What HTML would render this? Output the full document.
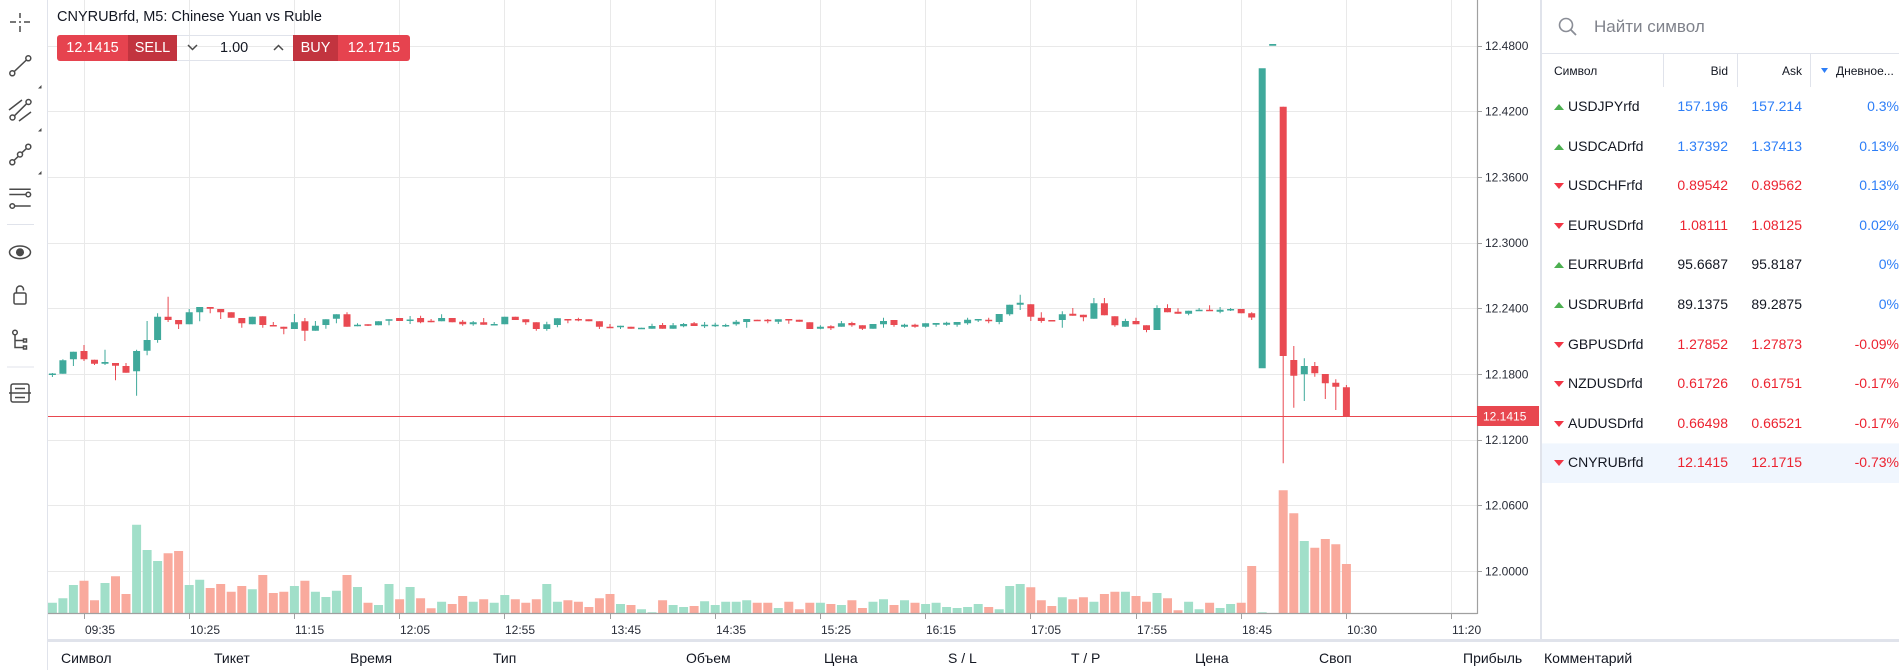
<!DOCTYPE html>
<html><head><meta charset="utf-8">
<style>
*{margin:0;padding:0;box-sizing:border-box}
html,body{width:1899px;height:670px;overflow:hidden;background:#fff;font-family:"Liberation Sans",Arial,sans-serif;color:#131722}
.a{position:absolute;white-space:nowrap}
.row{position:absolute;left:1542px;width:357px;height:39.6px;line-height:39.6px;font-size:14px}
.row .s{position:absolute;left:26px}
.row .b{position:absolute;right:171px}
.row .k{position:absolute;right:97px}
.row .c{position:absolute;right:0}
.up{position:absolute;left:12px;top:17px;width:0;height:0;border-left:5px solid transparent;border-right:5px solid transparent;border-bottom:6px solid #4caf50}
.dn{position:absolute;left:12px;top:17px;width:0;height:0;border-left:5px solid transparent;border-right:5px solid transparent;border-top:6px solid #f23645}
.bl{color:#2d7ef7}.rd{color:#ec2330}
.tb{position:absolute;top:35px;height:26px;line-height:26px;font-size:14.5px;color:#fff;text-align:center}
.bh{position:absolute;top:649px;font-size:14px;line-height:18px;color:#131722}
</style></head><body>

<svg class="a" style="left:0;top:0" width="1899" height="670" xmlns="http://www.w3.org/2000/svg">
<!-- grid -->
<g stroke="#e9e9e9" stroke-width="1" fill="none">
<path d="M84.5 0V614M189.5 0V614M294.5 0V614M399.5 0V614M504.5 0V614M610.5 0V614M715.5 0V614M820.5 0V614M925.5 0V614M1030.5 0V614M1136.5 0V614M1241.5 0V614M1346.5 0V614M1451.5 0V614"/>
<path d="M48 46.5H1477M48 111.5H1477M48 177.5H1477M48 243.5H1477M48 308.5H1477M48 374.5H1477M48 440.5H1477M48 505.5H1477M48 571.5H1477"/>
</g>
<!-- volume -->
<path stroke="#a1dfc9" stroke-width="9" fill="none" d="M52.4 602.7V614M62.9 598.3V614M73.4 585V614M105 583V614M136.6 524.7V614M147.1 550V614M157.6 561V614M189.2 585V614M199.7 579.7V614M252.3 589.3V614M294.4 586V614M315.4 591.7V614M325.9 597V614M336.4 590.7V614M357.5 587V614M378.5 605V614M389 584V614M410.1 587V614M441.6 601.7V614M473.2 601.7V614M494.2 602.7V614M504.8 595V614M546.8 584V614M557.4 601.7V614M620.5 604V614M641.5 609.3V614M652 612.3V614M673.1 605V614M683.6 607V614M704.6 601.3V614M715.2 605V614M725.7 601.7V614M736.2 601.7V614M746.7 600.3V614M778.3 608V614M820.4 602.7V614M841.4 605V614M873 601.7V614M883.5 599.3V614M904.5 600.3V614M925.6 604V614M936.1 602.7V614M946.6 607V614M957.1 608V614M967.6 607V614M978.2 604V614M999.2 609.3V614M1009.7 586V614M1020.2 584V614M1062.3 597.3V614M1093.9 601.7V614M1125.4 591.7V614M1157 593V614M1188.6 601.7V614M1199.1 609.3V614M1220.1 608V614M1230.6 604V614M1262.2 612.3V614M1304.3 541V614"/>
<path stroke="#f9aa9d" stroke-width="9" fill="none" d="M84 580.7V614M94.5 600.3V614M115.5 576.3V614M126 594V614M168.1 553.3V614M178.6 551V614M210.2 588V614M220.7 584V614M231.2 591.7V614M241.8 586V614M262.8 575V614M273.3 593V614M283.8 591.7V614M304.9 580.7V614M347 575V614M368 602.7V614M399.6 599.3V614M420.6 598.3V614M431.1 608.3V614M452.2 604V614M462.7 596V614M483.7 599.3V614M515.3 599.3V614M525.8 602.7V614M536.3 599.3V614M567.9 600.3V614M578.4 601.7V614M588.9 607V614M599.4 598.3V614M610 594V614M631 605V614M662.6 600.3V614M694.1 606V614M757.2 602.7V614M767.8 602.7V614M788.8 601.7V614M799.3 609.3V614M809.8 602.7V614M830.9 604V614M851.9 600.3V614M862.4 608V614M894 605V614M915 602.7V614M988.7 607V614M1030.8 587.3V614M1041.3 600.3V614M1051.8 606V614M1072.8 599.3V614M1083.4 597.3V614M1104.4 594V614M1114.9 591.7V614M1136 596V614M1146.5 601.7V614M1167.5 598.3V614M1178 610.3V614M1209.6 602.7V614M1241.2 602.7V614M1251.7 566V614M1283.2 490.3V614M1293.8 513.3V614M1314.8 547.7V614M1325.3 539V614M1335.8 544.3V614M1346.4 564V614"/>
<!-- candles green -->
<path stroke="#3fa99b" stroke-width="1" fill="none" d="M52.4 373V377M62.9 359.3V373.7M73.4 351.7V366M105 349.7V365M136.6 349.7V395.7M147.1 321V355.3M157.6 313.3V342.7M189.2 309V324.3M199.7 307V321.3M252.3 316.7V324.3M294.4 314V329M315.4 321V330.7M325.9 319.3V328.7M336.4 314.3V323.3M357.5 323.3V326.3M378.5 321.3V325.3M389 319.3V325.3M410.1 316V324M441.6 314.3V321.3M473.2 321V325.7M494.2 322V325.3M504.8 316.7V324.3M546.8 321.7V330.7M557.4 318.3V327.3M620.5 325.7V329M641.5 327.7V329M652 323.7V328.7M673.1 323V328.7M683.6 323V327.3M704.6 322V328M715.2 322.7V327M725.7 323.7V327M736.2 320V325.7M746.7 319V327.7M778.3 319.3V324M820.4 325.3V329.3M841.4 321V326.7M873 324V328.7M883.5 317.7V327.7M904.5 323.7V327.7M925.6 323.3V327.7M936.1 323V326.7M946.6 321.7V325.7M957.1 322V326.7M967.6 317.7V324.7M978.2 319V322M999.2 314V324.3M1009.7 304.7V315.7M1020.2 294.7V310M1062.3 311.3V327.7M1093.9 298V318.7M1125.4 318.7V326.7M1157 305.3V330M1188.6 310.7V315.3M1199.1 308V311M1220.1 307V313.3M1230.6 308V311M1304.3 358.3V401"/>
<path stroke="#3fa99b" stroke-width="7" fill="none" d="M52.4 373.5V375M62.9 360.3V373.7M73.4 351.7V359.3M105 362V363.7M136.6 351V371.3M147.1 340V350.7M157.6 316.7V340M189.2 312.3V324.3M199.7 307V312.3M252.3 316.7V324.3M294.4 322.3V329M315.4 325.7V330.7M325.9 319.3V325M336.4 314.3V318.7M357.5 324.7V326.3M378.5 321.3V325.3M389 319.3V320.8M410.1 319.5V321M441.6 318V321.3M473.2 322.3V324.3M494.2 324V325.5M504.8 316.7V324.3M546.8 324.3V329M557.4 318.3V325M620.5 325.7V327.3M641.5 327.7V329.2M652 326V328.7M673.1 325.3V328.7M683.6 324V326.3M704.6 324.7V326.2M715.2 324.7V326.2M725.7 325V326.5M736.2 321.7V324.3M746.7 319V322M778.3 319.3V321.7M820.4 326.7V328.7M841.4 323.3V326.7M873 324V328.7M883.5 321V324.3M904.5 324.7V326.7M925.6 323.3V326.7M936.1 323V324.7M946.6 322.7V324.7M957.1 322V324.7M967.6 319.7V323.3M978.2 319V320.5M999.2 314V322M1009.7 304.7V314.3M1020.2 302.7V304.7M1062.3 314.3V320M1093.9 303.3V318.7M1125.4 321V326.7M1157 308V330M1188.6 310.7V313.7M1199.1 309.7V311.2M1220.1 309.7V311.7M1230.6 309V310.5M1262.2 68.3V368.3M1272.7 44V45.7M1304.3 366V374.3"/>
<!-- candles red -->
<path stroke="#e94a52" stroke-width="1" fill="none" d="M84 345V361M94.5 359.7V365M115.5 363V380.3M126 363V372.7M168.1 296.7V322M178.6 320V329M210.2 307V313.3M220.7 309V319M231.2 312.3V317.7M241.8 318V327.7M262.8 316.3V327.7M273.3 322V326.3M283.8 326.7V334.3M304.9 318V341M347 312.3V326.7M368 324.3V326M399.6 318V321M420.6 315.7V323.3M431.1 319V322.3M452.2 318V322.3M462.7 320V325.7M483.7 318V324.7M515.3 316.7V320M525.8 319.3V324.7M536.3 322.3V330.7M567.9 319V323.3M578.4 317.7V321.3M588.9 319.3V321.3M599.4 321.3V329M610 324V327.7M631 326.7V328.7M662.6 323V328.7M694.1 322V326M757.2 319.7V320.7M767.8 319V323.3M788.8 319V323.7M799.3 319.7V321.7M809.8 322.3V329M830.9 325.3V330M851.9 321.7V326.7M862.4 325.3V330M894 320V326.7M915 323.7V327.7M988.7 317.7V323.3M1030.8 304.3V321M1041.3 312.3V322.7M1051.8 320V321M1072.8 308V315.7M1083.4 314.7V321.3M1104.4 298V315.3M1114.9 316.3V326.7M1136 317.7V324.3M1146.5 325.3V332.3M1167.5 304.3V312.3M1178 308.3V313.7M1209.6 305.3V311M1241.2 309V313.3M1251.7 312.3V320M1283.2 106.7V463.3M1293.8 346V407.7M1314.8 362V376.7M1325.3 374V399M1335.8 379.3V410M1346.4 385V416"/>
<path stroke="#e94a52" stroke-width="7" fill="none" d="M84 351V359.3M94.5 359.7V363.7M115.5 363V365.7M126 366V372.7M168.1 316.7V320M178.6 320V324.3M210.2 307V308.7M220.7 309V312.3M231.2 312.3V317.7M241.8 318V323.3M262.8 316.3V325M273.3 325V326.5M283.8 326.7V328.7M304.9 321.3V330.7M347 314.3V326.7M368 324.3V325.8M399.6 318V321M420.6 318V322.3M431.1 320.7V322.3M452.2 318V322.3M462.7 321.7V324.3M483.7 322.3V324.7M515.3 316.7V320M525.8 319.3V322.3M536.3 322.3V329M567.9 319V320.5M578.4 319V320.5M588.9 319.3V321.3M599.4 321.3V326.7M610 326.7V328.2M631 326.7V328.7M662.6 325V328.7M694.1 323.3V326M757.2 319.7V321.2M767.8 319.7V321.2M788.8 319V320.5M799.3 319.7V321.7M809.8 322.3V329M830.9 326.3V328.3M851.9 323V325.3M862.4 325.3V328.7M894 320V325M915 324.7V326.7M988.7 319.7V321.3M1030.8 304.3V316.7M1041.3 317.7V321M1051.8 320V321.5M1072.8 313.7V315.7M1083.4 314.7V317.3M1104.4 303.3V315.3M1114.9 316.3V325.3M1136 321V324.3M1146.5 325.3V330M1167.5 308V312.3M1178 311.7V313.7M1209.6 309.7V311.2M1241.2 309V313.3M1251.7 313.3V317.5M1283.2 106.7V356M1293.8 360V375.7M1314.8 366V373.3M1325.3 374V383.3M1335.8 382.7V386.7M1346.4 387.3V416"/>
<!-- price line -->
<path d="M48 416.5H1477" stroke="#e8474f" stroke-width="1"/>
<!-- axes -->
<path d="M1477.5 0V614M48 613.5H1477.5" stroke="#a0a0a0" stroke-width="1.2" fill="none"/>
<path d="M1477 46.5H1482M1477 111.5H1482M1477 177.5H1482M1477 243.5H1482M1477 308.5H1482M1477 374.5H1482M1477 440.5H1482M1477 505.5H1482M1477 571.5H1482" stroke="#a0a0a0" stroke-width="1"/>
<path d="M84.5 614V619M189.5 614V619M294.5 614V619M399.5 614V619M504.5 614V619M610.5 614V619M715.5 614V619M820.5 614V619M925.5 614V619M1030.5 614V619M1136.5 614V619M1241.5 614V619M1346.5 614V619M1451.5 614V619" stroke="#a0a0a0" stroke-width="1"/>
<g font-family="Liberation Sans, Arial, sans-serif" font-size="12" fill="#2a2e39">
<text x="1485" y="50">12.4800</text>
<text x="1485" y="115.7">12.4200</text>
<text x="1485" y="181.3">12.3600</text>
<text x="1485" y="247">12.3000</text>
<text x="1485" y="312.7">12.2400</text>
<text x="1485" y="378.3">12.1800</text>
<text x="1485" y="444">12.1200</text>
<text x="1485" y="509.7">12.0600</text>
<text x="1485" y="575.3">12.0000</text>
<text x="85" y="634">09:35</text>
<text x="190" y="634">10:25</text>
<text x="295" y="634">11:15</text>
<text x="400" y="634">12:05</text>
<text x="505" y="634">12:55</text>
<text x="611" y="634">13:45</text>
<text x="716" y="634">14:35</text>
<text x="821" y="634">15:25</text>
<text x="926" y="634">16:15</text>
<text x="1031" y="634">17:05</text>
<text x="1137" y="634">17:55</text>
<text x="1242" y="634">18:45</text>
<text x="1347" y="634">10:30</text>
<text x="1452" y="634">11:20</text>
</g>
<rect x="1477" y="406" width="62" height="20" fill="#e8474f"/>
<text x="1483" y="420.5" font-family="Liberation Sans, Arial, sans-serif" font-size="12" fill="#fff">12.1415</text>
<!-- frame lines -->
<rect x="47" y="0" width="1" height="670" fill="#e0e3eb"/>
<rect x="1540" y="0" width="2" height="640" fill="#e0e3eb"/>
<rect x="48" y="639" width="1851" height="3" fill="#e0e3eb"/>
<rect x="1542" y="53" width="357" height="1" fill="#e0e3eb"/>
<path d="M1663.5 54V87M1737.5 54V87M1810.5 54V87" stroke="#e0e3eb" stroke-width="1"/>
<rect x="1542" y="443.4" width="357" height="39.6" fill="#f0f6fe"/>
<!-- search icon -->
<circle cx="1566" cy="25" r="6.5" fill="none" stroke="#8a8d96" stroke-width="1.6"/>
<path d="M1570.8 29.8L1576 35" stroke="#8a8d96" stroke-width="1.8"/>
<path d="M1821 68H1828L1824.5 73Z" fill="#2d7ef7"/>
<!-- toolbar icons -->
<g stroke="#4a4a4a" stroke-width="1.5" fill="none">
<path d="M20 13V18M20 26V32M10 22H16M24 22H30"/>
<circle cx="12.3" cy="73.3" r="2.5"/><circle cx="28.3" cy="58.3" r="2.5"/><path d="M14.2 71.6L26.4 60"/>
<path d="M9 110L22 100M19 121L31 112"/><circle cx="12.5" cy="117.5" r="2.5"/><circle cx="28.5" cy="102" r="2.5"/><path d="M14.4 115.8L26.6 103.7"/>
<circle cx="12.3" cy="162.3" r="2.5"/><circle cx="20" cy="154.5" r="2.5"/><circle cx="28.3" cy="146.7" r="2.5"/><path d="M14 160.5L18.3 156.3M21.8 152.8L26.5 148.4"/>
<path d="M9.3 189.3H30.7M9.3 194.5H25.8M9.3 206H10M14.8 206H30.7"/><circle cx="28.3" cy="194.5" r="2.3"/><circle cx="12.3" cy="206" r="2.3"/>
<ellipse cx="20" cy="252.3" rx="10.5" ry="6.3"/><circle cx="20" cy="252.3" r="3.3" fill="#4a4a4a"/>
<rect x="14" y="293" width="12" height="11" rx="1.5"/><path d="M16.5 293V289.5A3.5 3.5 0 0 1 23.5 289.5V290.5"/>
<circle cx="15" cy="332.5" r="2.3"/><path d="M15 335V347.5H23M15 340.5H23"/><rect x="23.5" y="339" width="3" height="3"/><rect x="23.5" y="346" width="3" height="3"/>
<rect x="11" y="384" width="18" height="18" rx="2"/><path d="M9 393H31M15 388.5H25M15 397.5H25"/>
</g>
<path d="M20 21V23" stroke="#4a4a4a" stroke-width="1.5"/>
<path d="M7 224.5H34M7 367H34" stroke="#e0e3eb" stroke-width="1"/>
<path d="M41.5 85V88.5H38Z M41.5 128V131.5H38Z M41.5 171V174.5H38Z" fill="#4a4a4a"/>
<!-- chevrons -->
<path d="M188 45L192.5 49.5L197 45" stroke="#4a4a4a" stroke-width="1.5" fill="none"/>
<path d="M274 50L278.5 45.5L283 50" stroke="#4a4a4a" stroke-width="1.5" fill="none"/>
</svg>

<div class="a" style="left:57px;top:8px;font-size:14.5px;line-height:18px;color:#131722">CNYRUBrfd, M5: Chinese Yuan vs Ruble</div>

<div class="tb" style="left:57px;width:71px;background:#e6434f;border-radius:3px 0 0 3px">12.1415</div>
<div class="tb" style="left:128px;width:49px;background:#c2343f">SELL</div>
<div class="tb" style="left:177px;width:116px;border:1px solid #e0e3eb;border-left:none;border-right:none;background:transparent"></div>
<div class="a" style="left:220px;top:35px;line-height:26px;font-size:14.5px;color:#131722">1.00</div>
<div class="tb" style="left:293px;width:45px;background:#c2343f">BUY</div>
<div class="tb" style="left:338px;width:72px;background:#e6434f;border-radius:0 3px 3px 0">12.1715</div>

<div class="a" style="left:1594px;top:17px;font-size:17px;line-height:20px;color:#7f828b">Найти символ</div>
<div class="a" style="left:1554px;top:63px;font-size:12px;line-height:16px">Символ</div>
<div class="a" style="right:171px;top:63px;font-size:12px;line-height:16px">Bid</div>
<div class="a" style="right:97px;top:63px;font-size:12px;line-height:16px">Ask</div>
<div class="a" style="left:1836px;top:63px;font-size:12px;line-height:16px">Дневное...</div>

<div class="row" style="top:87px"><i class="up"></i><span class="s">USDJPYrfd</span><span class="b bl">157.196</span><span class="k bl">157.214</span><span class="c bl">0.3%</span></div>
<div class="row" style="top:126.6px"><i class="up"></i><span class="s">USDCADrfd</span><span class="b bl">1.37392</span><span class="k bl">1.37413</span><span class="c bl">0.13%</span></div>
<div class="row" style="top:166.2px"><i class="dn"></i><span class="s">USDCHFrfd</span><span class="b rd">0.89542</span><span class="k rd">0.89562</span><span class="c bl">0.13%</span></div>
<div class="row" style="top:205.8px"><i class="dn"></i><span class="s">EURUSDrfd</span><span class="b rd">1.08111</span><span class="k rd">1.08125</span><span class="c bl">0.02%</span></div>
<div class="row" style="top:245.4px"><i class="up"></i><span class="s">EURRUBrfd</span><span class="b">95.6687</span><span class="k">95.8187</span><span class="c bl">0%</span></div>
<div class="row" style="top:285px"><i class="up"></i><span class="s">USDRUBrfd</span><span class="b">89.1375</span><span class="k">89.2875</span><span class="c bl">0%</span></div>
<div class="row" style="top:324.6px"><i class="dn"></i><span class="s">GBPUSDrfd</span><span class="b rd">1.27852</span><span class="k rd">1.27873</span><span class="c rd">-0.09%</span></div>
<div class="row" style="top:364.2px"><i class="dn"></i><span class="s">NZDUSDrfd</span><span class="b rd">0.61726</span><span class="k rd">0.61751</span><span class="c rd">-0.17%</span></div>
<div class="row" style="top:403.8px"><i class="dn"></i><span class="s">AUDUSDrfd</span><span class="b rd">0.66498</span><span class="k rd">0.66521</span><span class="c rd">-0.17%</span></div>
<div class="row" style="top:443.4px"><i class="dn"></i><span class="s">CNYRUBrfd</span><span class="b rd">12.1415</span><span class="k rd">12.1715</span><span class="c rd">-0.73%</span></div>

<div class="bh" style="left:61px">Символ</div>
<div class="bh" style="left:214px">Тикет</div>
<div class="bh" style="left:350px">Время</div>
<div class="bh" style="left:493px">Тип</div>
<div class="bh" style="left:686px">Объем</div>
<div class="bh" style="left:824px">Цена</div>
<div class="bh" style="left:948px">S / L</div>
<div class="bh" style="left:1071px">T / P</div>
<div class="bh" style="left:1195px">Цена</div>
<div class="bh" style="left:1319px">Своп</div>
<div class="bh" style="left:1463px">Прибыль</div>
<div class="bh" style="left:1544px">Комментарий</div>
</body></html>
